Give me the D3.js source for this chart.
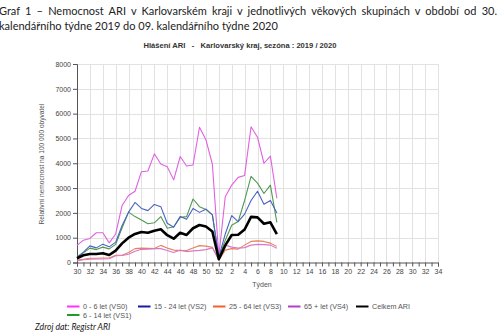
<!DOCTYPE html>
<html>
<head>
<meta charset="utf-8">
<script src="https://cdn.jsdelivr.net/npm/d3@7/dist/d3.min.js"></script>
<style>
  html, body { margin: 0; padding: 0; background: #fff; }
  svg { display: block; }
</style>
</head>
<body>
<svg id="chart" width="500" height="334"></svg>
<script>
// Week axis: calendar weeks 30/2019 .. 34/2020
const weeks = ["30","31","32","33","34","35","36","37","38","39","40","41","42","43","44","45","46","47","48","49","50","51","52",
  "1","2","3","4","5","6","7","8","9","10","11","12","13","14","15","16","17","18","19","20","21","22","23","24","25","26","27","28","29","30","31","32","33","34"];

const yTicks = [0, 1000, 2000, 3000, 4000, 5000, 6000, 7000, 8000];

// Relative morbidity per 100 000 inhabitants, weeks 30/2019 .. 9/2020
const vs0 = [690, 900, 970, 1200, 1200, 790, 1150, 2300, 2700, 2870, 3660, 3690, 4380, 3970, 3860, 3330, 4270, 3890, 3930, 5450, 4950, 3960, 250,
  2650, 3120, 3430, 3510, 5470, 5050, 4000, 4290, 2590];
const vs1 = [230, 390, 580, 520, 620, 550, 730, 1400, 2030, 1850, 1710, 1560, 1600, 1850, 1380, 1440, 1820, 1850, 2560, 2250, 2140, 1920, 200,
  900, 1500, 1650, 2500, 3470, 3200, 2780, 3120, 1620];
const vs2 = [200, 420, 670, 590, 740, 630, 820, 1490, 2030, 2420, 2180, 2090, 2340, 2250, 1580, 1420, 1850, 1740, 2180, 2020, 2150, 1920, 220,
  1150, 1890, 1650, 1950, 2500, 2870, 2350, 2500, 1990];
const vs3 = [100, 130, 170, 170, 180, 180, 290, 290, 400, 560, 580, 570, 560, 690, 580, 500, 480, 480, 580, 680, 660, 610, 100,
  500, 560, 540, 700, 850, 870, 850, 780, 650];
const vs4 = [60, 110, 130, 140, 140, 150, 270, 280, 330, 450, 530, 540, 560, 560, 480, 400, 500, 440, 470, 490, 520, 590, 110,
  700, 620, 580, 600, 700, 730, 720, 700, 570];
const celkem = [170, 290, 340, 340, 370, 300, 480, 770, 1000, 1150, 1230, 1200, 1280, 1340, 1100, 960, 1200, 1110, 1380, 1510, 1450, 1250, 130,
  690, 1110, 1120, 1330, 1840, 1820, 1560, 1620, 1140];

const seriesNames = ["0 - 6 let (VS0)", "6 - 14 let (VS1)", "15 - 24 let (VS2)", "25 - 64 let (VS3)", "65 + let (VS4)", "Celkem ARI"];

const series = [
  { name: seriesNames[0], values: vs0, color: "#e060e0", legend: "#ff33ff", width: 1.1 },
  { name: seriesNames[1], values: vs1, color: "#4f9a4f", legend: "#22992a", width: 1.1 },
  { name: seriesNames[2], values: vs2, color: "#4a62c0", legend: "#1a1aa0", width: 1.1 },
  { name: seriesNames[3], values: vs3, color: "#e8805e", legend: "#f06030", width: 1.1 },
  { name: seriesNames[4], values: vs4, color: "#d878c8", legend: "#b040c8", width: 1.1 },
  { name: seriesNames[5], values: celkem, color: "#000000", legend: "#000000", width: 2.6 }
];

const svg = d3.select("#chart");
const plotLeft = 77, plotRight = 438, plotTop = 64, plotBottom = 262.5;

const x = d3.scaleLinear().domain([0, weeks.length - 1]).range([plotLeft, plotRight]);
const y = d3.scaleLinear().domain([0, 8000]).range([plotBottom, plotTop]);

const titleFont = "Lato, 'Open Sans', sans-serif";
const axisFont = "'Liberation Sans', Arial, sans-serif";

// Title (justified first line)
const t1 = svg.append("text")
  .attr("x", -1).attr("y", 15)
  .attr("font-family", titleFont).attr("font-size", 11).attr("fill", "#222")
  .text("Graf 1 – Nemocnost ARI v Karlovarském kraji v jednotlivých věkových skupinách v období od 30.");
{
  const len = t1.node().getComputedTextLength();
  const spaces = t1.text().split(" ").length - 1;
  t1.attr("word-spacing", Math.max(0, (498 - len) / spaces));
}
svg.append("text")
  .attr("x", -1).attr("y", 30)
  .attr("font-family", titleFont).attr("font-size", 11).attr("fill", "#222")
  .text("kalendářního týdne 2019 do 09. kalendářního týdne 2020");

svg.append("text")
  .attr("x", 240).attr("y", 47.5).attr("text-anchor", "middle")
  .attr("font-family", axisFont).attr("font-size", 7.6).attr("font-weight", "bold").attr("fill", "#333")
  .attr("xml:space", "preserve")
  .text("Hlášení ARI   -   Karlovarský kraj, sezóna : 2019 / 2020");

// Grid
const grid = svg.append("g").attr("stroke", "#e2e2e2").attr("stroke-width", 1);
grid.selectAll("line.h").data(yTicks.filter(d => d > 0)).join("line")
  .attr("x1", plotLeft).attr("x2", plotRight)
  .attr("y1", d => Math.round(y(d)) + 0.5).attr("y2", d => Math.round(y(d)) + 0.5);
grid.selectAll("line.v").data(d3.range(2, weeks.length, 2)).join("line")
  .attr("x1", d => Math.round(x(d)) + 0.5).attr("x2", d => Math.round(x(d)) + 0.5)
  .attr("y1", plotTop).attr("y2", plotBottom);

// Axes
const yAxis = svg.append("g").attr("transform", `translate(${plotLeft},0)`)
  .call(d3.axisLeft(y).tickValues(yTicks).tickFormat(d3.format("d")).tickSize(4).tickPadding(2));
const xAxis = svg.append("g").attr("transform", `translate(0,${plotBottom})`)
  .call(d3.axisBottom(x).tickValues(d3.range(weeks.length)).tickSize(4).tickPadding(3)
    .tickFormat(i => i % 2 === 0 ? weeks[i] : ""));
[yAxis, xAxis].forEach(g => {
  g.select(".domain").attr("stroke", "#555");
  g.selectAll(".tick line").attr("stroke", "#555");
  g.selectAll("text").attr("font-family", axisFont).attr("font-size", 7).attr("fill", "#444");
});

svg.append("text")
  .attr("transform", "translate(44,164) rotate(-90)").attr("text-anchor", "middle")
  .attr("font-family", axisFont).attr("font-size", 6.6).attr("fill", "#555")
  .text("Relativní nemocnost na 100 000 obyvatel");

svg.append("text")
  .attr("x", 262).attr("y", 287).attr("text-anchor", "middle")
  .attr("font-family", axisFont).attr("font-size", 7).attr("fill", "#555")
  .text("Týden");

// Lines
const line = d3.line().x((d, i) => x(i)).y(d => y(d));
svg.append("g").selectAll("path").data(series).join("path")
  .attr("d", s => line(s.values))
  .attr("fill", "none")
  .attr("stroke", s => s.color)
  .attr("stroke-width", s => s.width)
  .attr("stroke-linejoin", "round");

// Legend
const legendItems = [
  { s: series[0], x: 67, y: 306.5 },
  { s: series[2], x: 138, y: 306.5 },
  { s: series[3], x: 213, y: 306.5 },
  { s: series[4], x: 288, y: 306.5 },
  { s: series[5], x: 356, y: 306.5 },
  { s: series[1], x: 67, y: 315 }
];
const lg = svg.append("g").selectAll("g").data(legendItems).join("g")
  .attr("transform", d => `translate(${d.x},${d.y})`);
lg.append("line").attr("x1", 0).attr("x2", 12.5).attr("y1", 0).attr("y2", 0)
  .attr("stroke", d => d.s.legend).attr("stroke-width", 2);
lg.append("text").attr("x", 16).attr("y", 2.6)
  .attr("font-family", axisFont).attr("font-size", 7.2).attr("fill", "#555")
  .text(d => d.s.name);

svg.append("text")
  .attr("x", 35).attr("y", 330)
  .attr("font-family", titleFont).attr("font-size", 8.6).attr("font-style", "italic").attr("fill", "#222")
  .text("Zdroj dat: Registr ARI");
</script>
</body>
</html>
